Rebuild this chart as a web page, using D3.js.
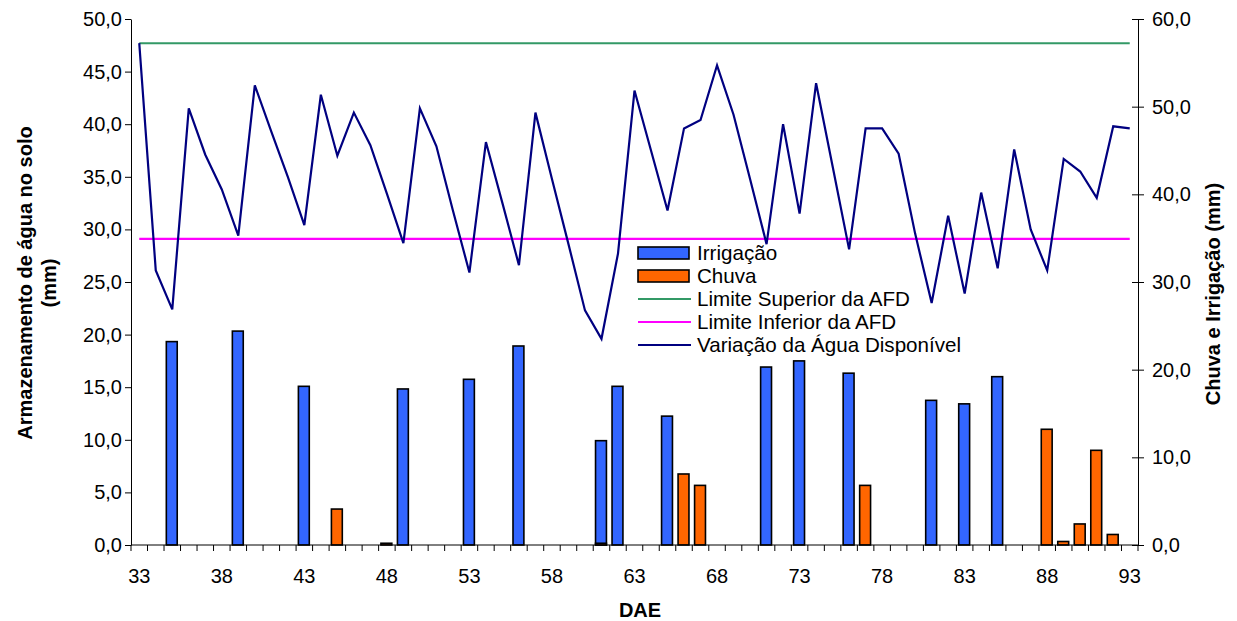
<!DOCTYPE html>
<html>
<head>
<meta charset="utf-8">
<script src="https://cdn.jsdelivr.net/npm/d3@7"></script>
<style>
  html, body { margin: 0; padding: 0; background: #fff; }
  svg { display: block; font-family: Arial, "Liberation Sans", sans-serif; }
</style>
</head>
<body>
<svg id="chart" width="1237" height="621"></svg>
<script>
// ---------------- DATA ----------------
const days = [33,34,35,36,37,38,39,40,41,42,43,44,45,46,47,48,49,50,51,52,53,54,55,56,57,58,59,60,61,62,63,
              64,65,66,67,68,69,70,71,72,73,74,75,76,77,78,79,80,81,82,83,84,85,86,87,88,89,90,91,92,93];
const aguaDisponivel = [47.7,26.1,22.4,41.5,37.1,33.8,29.4,43.7,39.3,35.0,30.4,42.8,37.0,41.1,38.0,33.4,28.7,
                        41.5,37.9,31.8,25.9,38.3,32.5,26.6,41.1,34.8,28.6,22.3,19.6,27.7,43.2,37.5,31.8,39.6,
                        40.4,45.6,40.9,34.8,28.6,40.0,31.5,43.9,36.0,28.1,39.6,39.6,37.2,29.6,23.0,31.3,23.9,
                        33.5,26.3,37.6,30.0,26.1,36.7,35.5,33.0,39.8,39.6];
const limiteSuperior = 47.7;
const limiteInferior = 29.1;
const irrigDays   = [35,39,43,49,53,56,61,62,65,71,73,76,81,83,85];
const irrigValues = [23.2,24.4,18.1,17.8,18.9,22.7,11.9,18.1,14.7,20.3,21.0,19.6,16.5,16.1,19.2];
const chuvaDays   = [45,48,61,66,67,77,88,89,90,91,92];
const chuvaValues = [4.1,0.2,0.2,8.1,6.8,6.8,13.2,0.4,2.4,10.8,1.2];
const xTickLabels = [33,38,43,48,53,58,63,68,73,78,83,88,93];
const leftTicks  = [0,5,10,15,20,25,30,35,40,45,50];
const rightTicks = [0,10,20,30,40,50,60];
const legendItems = [
  {name: "Irrigação", type: "box", color: "#3366FF"},
  {name: "Chuva", type: "box", color: "#FF6600"},
  {name: "Limite Superior da AFD", type: "line", color: "#339966"},
  {name: "Limite Inferior da AFD", type: "line", color: "#FF00FF"},
  {name: "Variação da Água Disponível", type: "line", color: "#000080"}
];

// ---------------- LAYOUT ----------------
const svg = d3.select("#chart");
const L = 131, R = 1138, T = 19, B = 545;
const fmt = v => d3.format(".1f")(v).replace(".", ",");

const x = d3.scaleBand().domain(days).range([L, R]).paddingInner(0.34).paddingOuter(0.17);
const xc = d => x(d) + x.bandwidth() / 2;
const yL = d3.scaleLinear().domain([0, 50]).range([B, T]);
const yR = d3.scaleLinear().domain([0, 60]).range([B, T]);

// ---------------- BARS ----------------
const irr = irrigDays.map((d, i) => ({d, v: irrigValues[i]}));
const chu = chuvaDays.map((d, i) => ({d, v: chuvaValues[i]}));
const bw = x.bandwidth();
function bars(data, color) {
  svg.append("g").selectAll("rect").data(data).enter().append("rect")
    .attr("x", d => xc(d.d) - bw / 2 - 0.5)
    .attr("y", d => yR(d.v))
    .attr("width", bw)
    .attr("height", d => B - yR(d.v))
    .attr("fill", color)
    .attr("stroke", "#000")
    .attr("stroke-width", 1.6);
}
bars(irr, "#3366FF");
bars(chu, "#FF6600");

// ---------------- LINES ----------------
svg.append("line")
  .attr("x1", xc(days[0])).attr("x2", xc(days[days.length - 1]))
  .attr("y1", yL(limiteSuperior)).attr("y2", yL(limiteSuperior))
  .attr("stroke", "#339966").attr("stroke-width", 2);
svg.append("line")
  .attr("x1", xc(days[0])).attr("x2", xc(days[days.length - 1]))
  .attr("y1", yL(limiteInferior)).attr("y2", yL(limiteInferior))
  .attr("stroke", "#FF00FF").attr("stroke-width", 2.2);
const line = d3.line().x((v, i) => xc(days[i])).y(v => yL(v));
svg.append("path").datum(aguaDisponivel)
  .attr("d", line).attr("fill", "none")
  .attr("stroke", "#000080").attr("stroke-width", 2.2).attr("stroke-linejoin", "miter");

// ---------------- AXES ----------------
const axisStyle = g => {
  g.selectAll("path,line").attr("stroke", "#000").attr("stroke-width", 1);
  g.selectAll("text").attr("font-size", 20).attr("fill", "#000")
    .attr("font-family", 'Arial, "Liberation Sans", sans-serif');
};
// left
svg.append("g").attr("transform", `translate(${L},0)`)
  .call(d3.axisLeft(yL).tickValues(leftTicks).tickFormat(fmt).tickSize(6).tickSizeOuter(0).tickPadding(3))
  .call(axisStyle);
// right
const gr = svg.append("g").attr("transform", `translate(${R},0)`)
  .call(d3.axisRight(yR).tickValues(rightTicks).tickFormat(fmt).tickSize(6).tickSizeOuter(0).tickPadding(8))
  .call(axisStyle);
gr.selectAll(".tick line").attr("x1", -6);
// bottom: ticks between categories
const gb = svg.append("g");
gb.append("line").attr("x1", L).attr("x2", R).attr("y1", B).attr("y2", B).attr("stroke", "#000");
const step = x.step();
const boundaries = days.map(d => x(d) - (step - bw) / 2).concat([R]);
gb.selectAll("line.tk").data(boundaries).enter().append("line")
  .attr("class", "tk")
  .attr("x1", d => d).attr("x2", d => d).attr("y1", B).attr("y2", B + 6)
  .attr("stroke", "#000");
gb.selectAll("text").data(xTickLabels).enter().append("text")
  .attr("x", d => xc(d)).attr("y", 583)
  .attr("text-anchor", "middle").attr("font-size", 20).text(d => d);

// ---------------- TITLES ----------------
svg.append("text").attr("x", 640).attr("y", 617).attr("text-anchor", "middle")
  .attr("font-size", 20).attr("font-weight", "bold").text("DAE");
const lt = svg.append("text").attr("transform", "translate(32,283) rotate(-90)")
  .attr("text-anchor", "middle").attr("font-size", 20).attr("font-weight", "bold");
lt.append("tspan").attr("x", 0).attr("dy", 0).text("Armazenamento de água no solo");
lt.append("tspan").attr("x", 0).attr("dy", 24).text("(mm)");
svg.append("text").attr("transform", "translate(1220,294) rotate(-90)")
  .attr("text-anchor", "middle").attr("font-size", 20).attr("font-weight", "bold")
  .text("Chuva e Irrigação (mm)");

// ---------------- LEGEND ----------------
const lg = svg.append("g").attr("transform", "translate(638,253)");
legendItems.forEach((it, i) => {
  const g = lg.append("g").attr("transform", `translate(0,${i * 23})`);
  if (it.type === "box") {
    g.append("rect").attr("x", 0).attr("y", -6).attr("width", 51).attr("height", 12)
      .attr("fill", it.color).attr("stroke", "#000").attr("stroke-width", 1.6);
  } else {
    g.append("line").attr("x1", 0).attr("x2", 53).attr("y1", 0).attr("y2", 0)
      .attr("stroke", it.color).attr("stroke-width", 2);
  }
  g.append("text").attr("x", 59).attr("y", 7).attr("font-size", 20.6).text(it.name);
});
</script>
</body>
</html>
